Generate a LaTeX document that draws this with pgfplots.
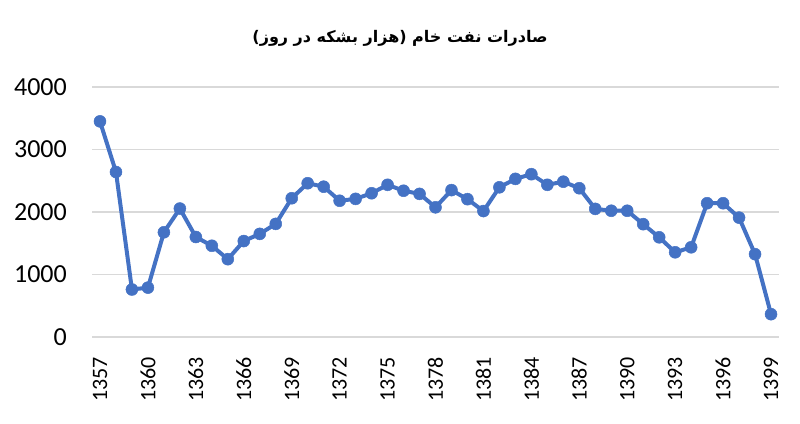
\documentclass[border=0pt]{standalone}
\usepackage{pgfplots}
\pgfplotsset{compat=1.18}
\usepackage{fontspec}
\setmainfont{Carlito}
\newfontfamily\arabicfont[Script=Arabic]{DejaVu Sans}
\TeXXeTstate=1
\definecolor{lineblue}{HTML}{4472C4}
\definecolor{gridgray}{HTML}{D9D9D9}
\begin{document}
\begin{tikzpicture}[x=1pt,y=1pt]
\path[use as bounding box] (0,0) rectangle (800,423);
\begin{axis}[
  at={(92pt,86pt)}, anchor=south west,
  scale only axis, width=687pt, height=250pt,
  xmin=1356.5, xmax=1399.5, ymin=0, ymax=4000,
  xtick={1357,1360,...,1399},
  ytick={0,1000,2000,3000,4000},
  axis line style={draw=none},
  tick style={draw=none},
  ymajorgrids, grid style={gridgray, line width=1.5pt},
  /pgf/number format/assume math mode=true,
  /pgf/number format/1000 sep={},
  clip=false,
  xticklabel shift=20pt,
  yticklabel shift=25pt,
  xticklabel style={font=\fontsize{22}{22}\selectfont, rotate=90, anchor=east, inner sep=0pt},
  yticklabel style={font=\fontsize{26}{26}\selectfont, anchor=east, inner sep=0pt},
]
\addplot[lineblue, line width=4pt, mark=*, mark size=6pt, mark options={solid, fill=lineblue, draw=lineblue, line width=0.5pt}] coordinates {
(1357,3450) (1358,2640) (1359,760) (1360,790) (1361,1675) (1362,2055)
(1363,1600) (1364,1460) (1365,1245) (1366,1535) (1367,1650) (1368,1810)
(1369,2220) (1370,2460) (1371,2405) (1372,2180) (1373,2210) (1374,2300)
(1375,2435) (1376,2340) (1377,2290) (1378,2075) (1379,2350) (1380,2205)
(1381,2015) (1382,2395) (1383,2530) (1384,2605) (1385,2435) (1386,2485)
(1387,2380) (1388,2050) (1389,2020) (1390,2020) (1391,1805) (1392,1595)
(1393,1355) (1394,1435) (1395,2140) (1396,2140) (1397,1910) (1398,1325)
(1399,365)
};
\end{axis}
\node at (400,385) {\arabicfont\bfseries\fontsize{16}{16}\selectfont\beginR صادرات نفت خام (هزار بشکه در روز)\endR};
\end{tikzpicture}
\end{document}
